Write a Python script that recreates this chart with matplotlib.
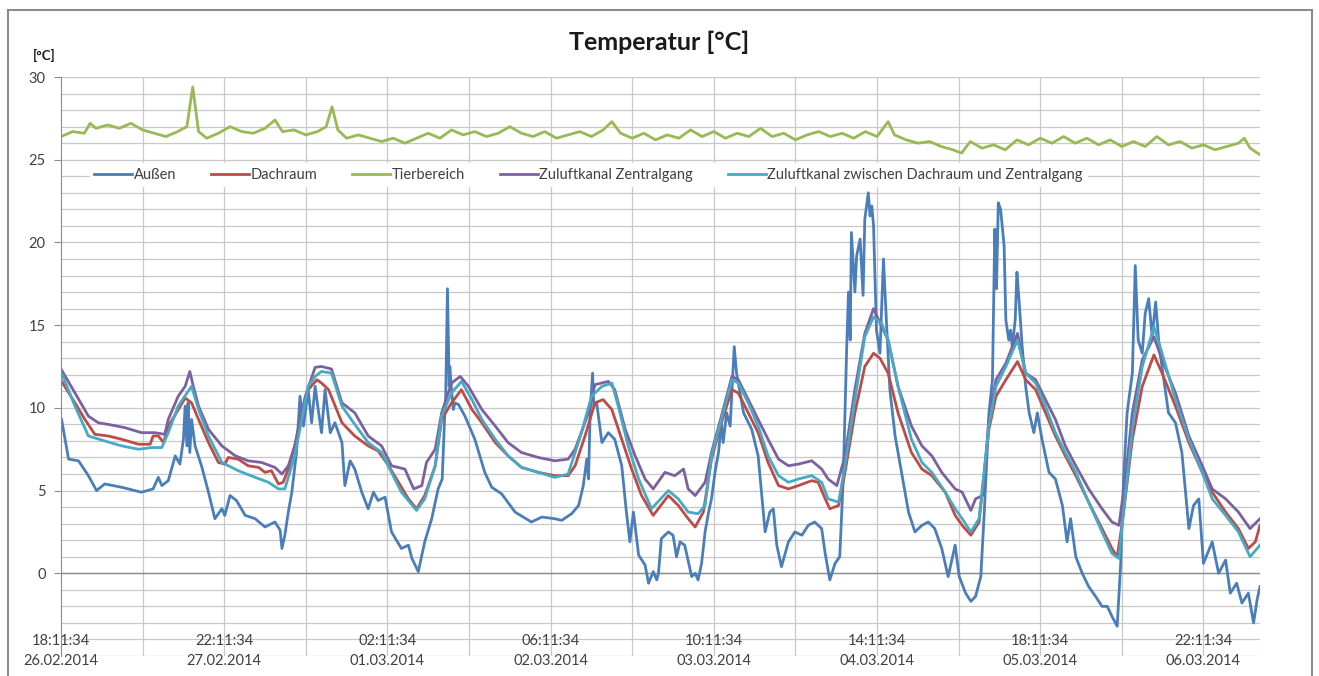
import matplotlib
matplotlib.use('Agg')
import matplotlib.pyplot as plt
from matplotlib.lines import Line2D

plt.rcParams['font.family'] = ['Lato', 'DejaVu Sans']

# hours since 26.02.2014 18:11:34
x_ticks = [0, 28, 56, 84, 112, 140, 168, 196]
x_labels = ['18:11:34\n26.02.2014', '22:11:34\n27.02.2014', '02:11:34\n01.03.2014',
            '06:11:34\n02.03.2014', '10:11:34\n03.03.2014', '14:11:34\n04.03.2014',
            '18:11:34\n05.03.2014', '22:11:34\n06.03.2014']
t_end = 205.7

# Außen
t_aussen = [0.1, 1.3, 3.0, 4.7, 6.1, 7.5, 10.4, 13.8, 15.8, 16.7, 17.3, 18.4, 19.6, 20.4, 21.0, 21.3,
            21.6, 21.8, 22.1, 22.4, 23.0, 24.1, 25.3, 26.4, 27.6, 28.1, 29.0, 30.1, 31.6, 33.3, 35.0,
            36.7, 37.6, 37.9, 38.4, 39.0, 39.6, 40.4, 41.0, 41.6, 42.4, 43.0, 43.6, 44.2, 44.7, 45.3,
            46.2, 47.0, 48.2, 48.7, 49.6,
            50.4, 51.6, 52.7, 53.6, 54.4, 55.6, 56.7, 58.4, 59.6, 60.2, 61.3, 62.4, 63.6, 64.7, 65.4,
            65.8, 66.0, 66.3, 66.6, 66.7, 67.0, 67.3, 67.6, 68.2, 69.3, 71.0, 72.7, 73.9, 75.6, 77.9,
            80.7, 82.5, 84.7, 85.9, 87.6, 88.8, 89.6, 90.2, 90.5, 90.8, 91.2, 91.4, 91.9, 92.8, 93.9,
            95.0, 96.2, 97.0, 97.6, 98.2, 99.1, 100.2, 100.8, 101.6, 102.2,
            102.5, 103.0, 104.2, 105.0, 105.6, 106.2, 107.0, 108.2, 108.8, 109.3, 109.9, 110.5, 111.1,
            111.6, 112.2, 112.8, 113.3, 113.6, 114.2, 114.8, 115.2, 115.5, 115.9, 116.5, 117.1, 118.5,
            119.6, 120.8, 121.6, 122.2, 122.8, 123.6, 124.8, 125.9, 127.1, 128.2, 129.3, 130.5, 131.1,
            131.9, 132.8, 133.6, 134.2, 134.8, 135.1, 135.4, 135.6, 136.2, 136.5, 137.1, 137.6, 137.9,
            138.5, 138.8, 139.1, 139.4, 139.9, 140.5, 141.1, 141.6, 142.2, 143.1, 144.2, 145.4, 146.5,
            147.7, 148.8, 149.9, 151.1, 152.2, 153.4,
            154.1, 155.2, 156.1, 156.9, 157.8, 158.4, 159.2, 159.8, 160.2, 160.5, 160.8, 161.2, 161.8,
            162.1, 162.6, 162.9, 163.2, 163.7, 164.0, 164.3, 164.9, 165.5, 166.1, 166.9, 167.5, 168.3,
            169.5, 170.6, 171.8, 172.6, 173.2, 174.1, 175.2, 176.3, 177.5, 178.6, 179.5, 180.3, 181.2,
            181.8, 182.3, 182.9, 183.8, 184.3, 184.8, 185.5, 186.0, 186.6, 187.2, 187.8, 188.4, 189.2,
            190.0, 191.2, 192.3, 193.5, 194.3, 195.2, 196.0, 197.5, 198.6, 199.8, 200.6, 201.7, 202.6,
            203.7, 204.6, 205.2, 205.7]
aussen = [9.3, 6.9, 6.8, 5.9, 5.0, 5.4, 5.2, 4.9, 5.1, 5.8, 5.3, 5.6, 7.1, 6.6, 8.1, 10.1,
          7.7, 10.3, 7.3, 9.3, 7.7, 6.5, 4.9, 3.3, 3.9, 3.5, 4.7, 4.4, 3.5, 3.3, 2.8,
          3.1, 2.6, 1.5, 2.3, 3.7, 4.9, 7.3, 10.7, 8.9, 11.1, 9.1, 11.3, 9.7, 8.5, 11.1,
          8.5, 9.1, 7.9, 5.3, 6.8,
          6.3, 4.9, 3.9, 4.9, 4.4, 4.6, 2.5, 1.5, 1.7, 0.9, 0.1, 1.9, 3.3, 5.1, 5.7,
          9.3, 10.7, 17.2, 11.3, 12.5, 11.1, 9.9, 10.3, 10.2, 9.5, 8.1, 6.1, 5.2, 4.8, 3.7,
          3.1, 3.4, 3.3, 3.2, 3.6, 4.1, 5.3, 6.9, 5.7, 9.9, 12.1, 10.1, 10.3, 7.9, 8.5,
          8.1, 6.5, 3.7, 1.9, 3.7, 1.1, 0.5, -0.6, 0.1, -0.4,
          0.0, 2.1, 2.5, 2.3, 1.0, 1.9, 1.7, -0.2, 0.0, -0.4, 0.6, 2.5, 3.7,
          4.5, 6.1, 7.3, 9.1, 7.9, 9.7, 8.9, 11.7, 13.7, 12.1, 10.9, 9.7, 8.7,
          7.1, 2.5, 3.7, 3.9, 1.7, 0.4, 1.9, 2.5, 2.3, 2.9, 3.1, 2.7, 1.2,
          -0.4, 0.6, 1.0, 5.7, 13.7, 17.0, 14.1, 20.6, 17.0, 19.2, 20.2, 16.8, 21.4,
          23.0, 21.6, 22.2, 21.0, 14.7, 13.3, 19.0, 15.3, 11.1, 8.3, 6.1, 3.7, 2.5,
          2.9, 3.1, 2.7, 1.5, -0.2, 1.7,
          -0.2, -1.2, -1.7, -1.4, -0.2, 3.7, 9.7, 11.7, 20.8, 17.2, 22.4, 22.0, 19.8,
          15.3, 14.1, 14.7, 13.7, 15.3, 18.2, 16.8, 13.7, 11.3, 9.7, 8.5, 9.7, 8.1,
          6.1, 5.7, 4.1, 1.9, 3.3, 1.0, 0.0, -0.8, -1.4, -2.0, -2.0, -2.6, -3.2,
          0.6, 5.7, 9.7, 12.1, 18.6, 14.1, 13.3, 15.7, 16.6, 14.3, 16.4, 13.7, 11.7,
          9.7, 9.1, 7.3, 2.7, 4.1, 4.5, 0.6, 1.9, 0.0, 0.8, -1.2, -0.6, -1.8,
          -1.2, -3.0, -1.6, -0.8]

# Dachraum
t_dach = [0.1, 2.4, 4.1, 5.8, 8.1, 10.4, 13.3, 15.3, 15.8, 16.7, 17.6, 18.4, 19.8, 21.3, 22.4, 23.6,
          25.3, 27.0, 28.1, 28.7, 30.4, 32.1, 33.9, 35.0, 36.1, 37.3, 38.1, 39.0, 40.1, 41.3, 42.4,
          43.9, 44.7, 45.9, 48.2, 50.4,
          52.7, 54.4, 56.2, 57.9, 59.6, 61.0, 62.4, 64.2, 65.3, 67.0, 68.7, 70.5, 72.2, 74.5, 76.7,
          79.0, 81.9, 84.7, 87.0, 88.2, 89.9, 91.6, 93.0, 94.5, 96.2, 97.9, 99.6, 101.6,
          104.2, 105.9, 107.6, 108.8, 110.2, 111.6, 113.3, 115.1, 116.2, 117.9, 119.6, 121.3, 123.1,
          124.8, 126.5, 128.8, 129.9, 131.1, 131.9, 133.4, 134.5, 136.2, 137.9, 139.4, 140.5, 141.9,
          143.6, 145.9, 147.7, 149.4, 151.7, 153.4,
          154.6, 156.1, 157.5, 159.2, 160.4, 162.1, 164.1, 165.5, 167.2, 168.9, 170.6, 172.3, 174.1,
          176.3, 178.6, 180.3, 181.2, 182.1, 183.8, 185.5, 187.5, 188.9, 191.2, 193.5, 195.8, 197.5,
          199.8, 202.0, 203.7, 204.9, 205.7]
dach = [11.6, 10.3, 9.3, 8.4, 8.3, 8.1, 7.8, 7.8, 8.3, 8.3, 7.9, 8.9, 9.7, 10.6, 10.3, 9.3,
        7.9, 6.7, 6.6, 7.0, 6.9, 6.5, 6.4, 6.1, 6.2, 5.4, 5.5, 6.3, 7.7, 9.7, 11.1,
        11.7, 11.5, 11.1, 9.1, 8.3,
        7.7, 7.4, 6.5, 5.5, 4.5, 3.9, 4.7, 6.5, 9.3, 10.3, 11.1, 9.9, 9.1, 7.9, 7.1,
        6.4, 6.1, 5.9, 5.9, 6.5, 8.3, 10.3, 10.5, 9.9, 8.1, 6.3, 4.7, 3.5,
        4.7, 4.1, 3.3, 2.8, 3.7, 6.9, 9.1, 11.1, 10.9, 9.7, 8.5, 6.7, 5.3,
        5.1, 5.3, 5.6, 5.5, 4.5, 3.9, 4.1, 6.1, 9.7, 12.5, 13.3, 13.0, 12.1,
        9.7, 7.3, 6.3, 5.9, 4.9, 3.5,
        2.9, 2.3, 3.1, 8.7, 10.7, 11.7, 12.8, 11.7, 11.1, 9.7, 8.3, 7.1, 5.9,
        4.3, 2.7, 1.5, 1.0, 3.1, 8.1, 11.3, 13.2, 12.1, 10.1, 7.9, 6.1, 4.9,
        3.7, 2.7, 1.5, 1.9, 2.9]

# Tierbereich
t_tier = [0, 2, 4, 5, 6, 8, 10, 12, 14, 16, 18, 20, 21.6, 22.6, 23.6, 25, 27, 29, 31, 33, 35,
          36.7, 38, 40, 42, 44, 45.5, 46.5, 47.5, 49, 51, 53, 55, 57, 59, 61, 63, 65, 67, 69, 71,
          73, 75, 77, 79, 81, 83, 85, 87, 89, 91, 93, 94.5, 96, 98, 100, 102, 104, 106, 108, 110,
          112, 114, 116, 118, 120, 122, 124, 126, 128, 130, 132, 134, 136, 138, 140, 141.9, 143,
          145, 147, 149, 151, 153, 154.5, 156, 158, 160, 162, 164, 166, 168, 170, 172, 174, 176,
          178, 180, 182, 184, 186, 188, 190, 192, 194, 196, 198, 200, 202, 203, 204, 205.7]
tier = [26.4, 26.7, 26.6, 27.2, 26.9, 27.1, 26.9, 27.2, 26.8, 26.6, 26.4, 26.7, 27.0, 29.4, 26.7,
        26.3, 26.6, 27.0, 26.7, 26.6, 26.9, 27.4, 26.7, 26.8, 26.5, 26.7, 27.0, 28.2, 26.8, 26.3,
        26.5, 26.3, 26.1, 26.3, 26.0, 26.3, 26.6, 26.3, 26.8, 26.5, 26.7, 26.4, 26.6, 27.0, 26.6,
        26.4, 26.7, 26.3, 26.5, 26.7, 26.4, 26.8, 27.3, 26.6, 26.3, 26.6, 26.2, 26.5, 26.3, 26.8,
        26.4, 26.7, 26.3, 26.6, 26.4, 26.9, 26.4, 26.6, 26.2, 26.5, 26.7, 26.4, 26.6, 26.3, 26.7,
        26.4, 27.3, 26.5, 26.2, 26.0, 26.1, 25.8, 25.6, 25.4, 26.1, 25.7, 25.9, 25.6, 26.2, 25.9,
        26.3, 26.0, 26.4, 26.0, 26.3, 25.9, 26.2, 25.8, 26.1, 25.8, 26.4, 25.9, 26.1, 25.7, 25.9,
        25.6, 25.8, 26.0, 26.3, 25.7, 25.3]

# Zuluftkanal Zentralgang
t_zentral = [0.0, 2.4, 4.7, 6.4, 8.1, 11.0, 13.8, 16.1, 17.8, 18.4, 20.1, 21.3, 22.1, 22.7, 23.6, 25.3,
             27.6, 29.9, 32.1, 34.4, 36.7, 37.9, 39.0, 40.1, 41.9, 43.6, 44.7, 46.4, 48.2, 50.4,
             52.7, 55.0, 56.7, 59.0, 60.5, 61.9, 62.7, 64.2, 65.3, 67.0, 68.5, 69.9, 72.2, 74.5,
             76.7, 79.0, 81.9, 84.7, 87.0, 88.2, 90.5, 91.6, 93.9, 95.0, 96.8, 98.5, 100.2, 101.6,
             103.6, 105.3, 106.8, 107.6, 108.8, 110.5, 111.6, 113.3, 115.1, 116.2, 117.9, 119.6,
             121.3, 123.1, 124.8, 126.5, 128.8, 130.5, 131.6, 133.1, 134.5, 136.2, 137.9, 139.4,
             140.8, 141.9, 143.6, 145.9, 147.7, 149.4, 151.1, 153.4,
             154.6, 156.1, 156.9, 158.1, 159.2, 160.4, 162.1, 164.1, 165.5, 167.2, 168.9, 170.6,
             172.3, 174.1, 176.3, 178.6, 180.3, 181.5, 182.6, 183.8, 185.5, 187.5, 188.9, 191.2,
             193.5, 195.8, 197.5, 199.8, 202.0, 204.0, 205.7]
zentral = [12.35, 10.9, 9.5, 9.1, 9.0, 8.8, 8.5, 8.5, 8.4, 9.3, 10.7, 11.3, 12.2, 11.3, 10.1, 8.7,
           7.7, 7.1, 6.8, 6.7, 6.4, 6.0, 6.5, 7.7, 10.7, 12.45, 12.5, 12.35, 10.3, 9.7,
           8.3, 7.7, 6.5, 6.3, 5.1, 5.3, 6.7, 7.5, 9.7, 11.5, 11.9, 11.3, 9.9, 8.9,
           7.9, 7.3, 7.0, 6.8, 6.9, 7.5, 9.7, 11.4, 11.6, 11.1, 8.7, 7.1, 5.7, 5.1,
           6.1, 5.9, 6.3, 5.1, 4.7, 5.5, 7.3, 9.5, 11.9, 11.7, 10.5, 9.3,
           8.1, 6.9, 6.5, 6.6, 6.8, 6.3, 5.7, 5.3, 7.1, 11.1, 14.5, 16.0,
           14.9, 14.1, 11.3, 8.9, 7.7, 7.1, 6.1, 5.1,
           4.9, 3.8, 4.5, 4.7, 9.3, 11.7, 12.7, 14.5, 12.1, 11.7, 10.5, 9.3,
           7.7, 6.5, 5.1, 3.9, 3.1, 2.9, 5.7, 9.7, 12.9, 14.3, 12.9, 10.9,
           8.3, 6.5, 5.1, 4.5, 3.7, 2.7, 3.3]

# Zuluftkanal zwischen Dachraum und Zentralgang
t_zwischen = [0.1, 2.4, 4.7, 7.5, 10.4, 13.3, 15.6, 17.3, 18.4, 20.1, 21.6, 22.4, 23.6, 25.3, 27.6,
              30.4, 33.3, 35.6, 37.3, 38.4, 40.1, 41.3, 42.4, 43.6, 44.7, 46.4, 48.2, 50.4,
              52.7, 55.0, 56.7, 58.4, 61.0, 62.4, 64.2, 65.3, 67.0, 68.7, 70.5, 72.2, 74.5, 76.7,
              79.0, 81.9, 84.7, 87.0, 89.3, 91.0, 92.8, 94.5, 95.6, 97.3, 99.1, 101.3,
              104.2, 105.9, 107.6, 109.3, 110.5, 111.6, 113.3, 115.1, 116.2, 117.9, 119.6, 121.3,
              123.1, 124.8, 126.5, 128.8, 130.5, 131.6, 133.4, 134.5, 136.2, 137.9, 139.4, 140.8,
              141.9, 143.6, 145.9, 147.7, 149.4, 151.7, 153.4,
              154.6, 156.1, 157.5, 159.2, 160.4, 162.1, 164.1, 165.5, 167.2, 168.9, 170.6, 172.3,
              174.1, 176.3, 178.6, 180.3, 181.5, 182.1, 183.8, 185.5, 187.5, 188.9, 191.2, 193.5,
              195.8, 197.5, 199.8, 202.0, 204.0, 205.7]
zwischen = [12.1, 10.1, 8.3, 8.0, 7.7, 7.5, 7.6, 7.6, 8.5, 10.1, 10.9, 11.3, 9.9, 8.3, 6.7,
            6.2, 5.8, 5.5, 5.1, 5.1, 7.1, 9.3, 11.3, 11.9, 12.2, 12.1, 10.1, 9.0,
            7.9, 7.3, 6.1, 4.9, 3.8, 4.5, 6.5, 9.5, 10.9, 11.6, 10.5, 9.3, 8.1, 7.1,
            6.4, 6.1, 5.8, 6.0, 8.5, 10.7, 11.3, 11.5, 10.1, 7.7, 5.7, 3.9,
            5.0, 4.5, 3.7, 3.6, 4.1, 7.1, 9.3, 11.7, 11.5, 10.3, 8.9, 7.1,
            5.9, 5.5, 5.7, 5.9, 5.5, 4.5, 4.3, 6.5, 10.5, 14.3, 15.5, 15.1,
            14.1, 11.3, 8.1, 6.7, 6.1, 4.9, 3.9,
            3.3, 2.5, 3.3, 8.9, 11.3, 12.5, 14.1, 12.1, 11.5, 10.1, 8.5, 7.3,
            6.1, 4.3, 2.5, 1.2, 0.9, 3.1, 8.7, 12.5, 14.9, 13.3, 10.5, 8.1,
            6.1, 4.5, 3.5, 2.5, 1.0, 1.7]

fig = plt.figure(figsize=(13.19, 6.76), dpi=100)
ax = fig.add_axes([61 / 1319, 20 / 676, 1199 / 1319, 579 / 676])

grid_col = '#c8c8c8'
ax.set_xlim(0, t_end)
ax.set_ylim(-5, 30)
for v in range(-5, 31):
    ax.axhline(v, color=grid_col, lw=0.9, zorder=0)
for h in range(14, 206, 14):
    ax.axvline(h, color=grid_col, lw=0.9, zorder=0)
ax.axhline(0, color='#8c8c8c', lw=1.0, zorder=0.5)

ax.plot(t_aussen, aussen, color='#4a7ebb', lw=2.0, label='Außen')
ax.plot(t_dach, dach, color='#be4b48', lw=2.0, label='Dachraum')
ax.plot(t_tier, tier, color='#98b954', lw=2.0, label='Tierbereich')
ax.plot(t_zentral, zentral, color='#7d60a0', lw=2.0, label='Zuluftkanal Zentralgang')
ax.plot(t_zwischen, zwischen, color='#46aac5', lw=2.0, label='Zuluftkanal zwischen Dachraum und Zentralgang')

for s in ['top', 'right', 'bottom']:
    ax.spines[s].set_visible(False)
ax.spines['left'].set_color('#8c8c8c')

ax.set_yticks(range(0, 31, 5))
ax.tick_params(axis='y', length=5, color='#8c8c8c', labelsize=10.5, labelcolor='#404040', pad=6)
ax.set_xticks(x_ticks)
ax.set_xticklabels(x_labels, linespacing=1.55)
ax.tick_params(axis='x', length=0, labelsize=10.5, labelcolor='#404040', pad=-16)

leg = ax.legend(loc='center', bbox_to_anchor=(0.44, 0.831), ncol=5, fontsize=10.5,
                frameon=True, fancybox=False, handlelength=2.6, handletextpad=0.1,
                columnspacing=2.4, borderpad=0.3)
leg.get_frame().set_facecolor('white')
leg.get_frame().set_edgecolor('white')
leg.get_frame().set_alpha(1)
for txt in leg.get_texts():
    txt.set_color('#404040')

fig.text(0.5, 1 - 42 / 676, 'Temperatur [°C]', ha='center', va='center',
         fontsize=18, fontweight='bold', color='#1a1a1a')
fig.text(33 / 1319, 1 - 55 / 676, '[°C]', ha='left', va='center',
         fontsize=9.5, fontweight='bold', color='#1a1a1a')

fig.add_artist(Line2D([8 / 1319, 8 / 1319], [0, 1 - 10 / 676], color='#8c8c8c', lw=1.5))
fig.add_artist(Line2D([8 / 1319, 1312 / 1319], [1 - 10 / 676, 1 - 10 / 676], color='#8c8c8c', lw=1.5))
fig.add_artist(Line2D([1312 / 1319, 1312 / 1319], [0, 1 - 10 / 676], color='#8c8c8c', lw=1.5))

fig.savefig('out.png', dpi=100)
